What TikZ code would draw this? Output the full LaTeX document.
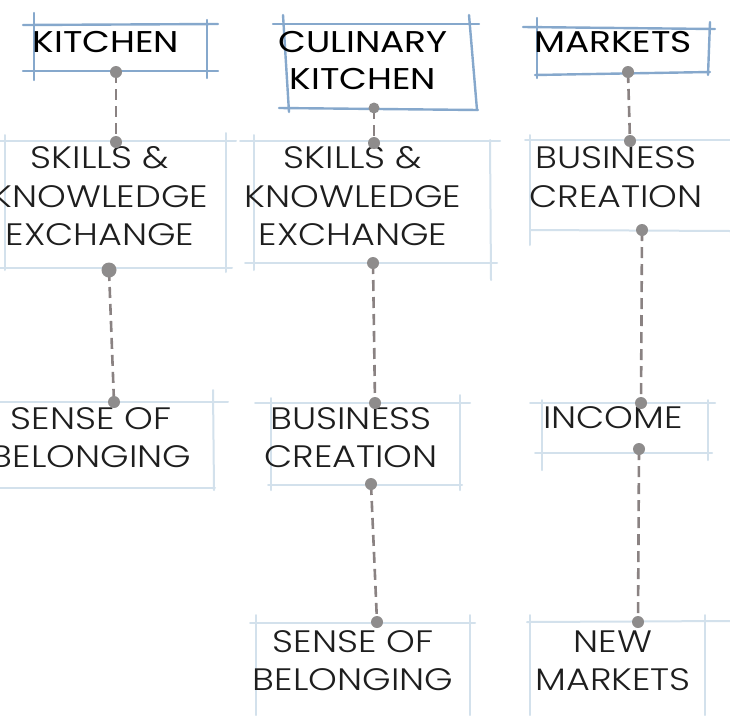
\documentclass[tikz,border=0pt]{standalone}
\usepackage{fontspec}
\setmainfont{Poppins}
\newfontfamily\bodyfont{Poppins Light}[FakeStretch=1.18]
\newfontfamily\headfont{Poppins}[FakeStretch=1.2]
\definecolor{headblue}{HTML}{86A8CC}
\definecolor{lightblue}{HTML}{D3E1EC}
\definecolor{dotgrey}{HTML}{8E8C8C}
\definecolor{dashgrey}{HTML}{8A8282}
\definecolor{txt}{HTML}{1E1E1E}
\begin{document}
\begin{tikzpicture}[x=1pt,y=-1pt,
  headline/.style={draw=headblue,line width=2.4pt,line cap=round},
  boxline/.style={draw=lightblue,line width=2pt,line cap=round},
  bodytext/.style={font=\bodyfont\fontsize{31}{38.5}\selectfont,text=txt,align=center,inner sep=0pt},
  headtext/.style={font=\headfont\fontsize{30}{37}\selectfont,text=black,align=center,inner sep=0pt},
  dot/.style={fill=dotgrey,draw=none},
  link/.style={draw=dashgrey,line width=2.6pt,dash pattern=on 11pt off 6pt}]
\useasboundingbox (0,0) rectangle (730,715);
\fill[white] (0,0) rectangle (730,715);

% ---------- boxes: column 1 ----------
\draw[headline] (23,25) -- (218,24);
\draw[headline] (23,71) -- (218,71);
\draw[headline] (34,13) -- (34,80);
\draw[headline] (207,20) -- (207,78);
\draw[boxline] (0,141) -- (236,141);
\draw[boxline] (0,268) -- (232,268);
\draw[boxline] (5,135) -- (5,270);
\draw[boxline] (226,133) -- (226,272);
\draw[boxline] (0,402) -- (228,402);
\draw[boxline] (0,488) -- (215,488);
\draw[boxline] (213,390) -- (214,490);

% ---------- boxes: column 2 ----------
\draw[headline] (273,24) -- (479,24);
\draw[headline] (279,108) -- (478,110);
\draw[headline] (283,15) -- (289,112);
\draw[headline] (469,15) -- (477,110);
\draw[boxline] (240,141) -- (500,141);
\draw[boxline] (245,263) -- (497,263);
\draw[boxline] (254,135) -- (254,270);
\draw[boxline] (490,140) -- (491,280);
\draw[boxline] (255,403) -- (470,403);
\draw[boxline] (268,485) -- (462,485);
\draw[boxline] (271,398) -- (271,490);
\draw[boxline] (460,395) -- (460,490);
\draw[boxline] (250,623) -- (475,623);
\draw[boxline] (256,615) -- (256,715);
\draw[boxline] (470,615) -- (470,715);

% ---------- boxes: column 3 ----------
\draw[headline] (523,27) -- (715,29);
\draw[headline] (535,75) -- (710,72);
\draw[headline] (537,18) -- (537,78);
\draw[headline] (710,22) -- (708,75);
\draw[boxline] (525,140) -- (730,140);
\draw[boxline] (530,230) -- (730,231);
\draw[boxline] (530,135) -- (530,245);
\draw[boxline] (530,403) -- (715,403);
\draw[boxline] (535,453) -- (712,453);
\draw[boxline] (542,400) -- (542,470);
\draw[boxline] (708,400) -- (708,460);
\draw[boxline] (527,622) -- (730,621);
\draw[boxline] (530,615) -- (530,715);
\draw[boxline] (705,615) -- (705,715);

% ---------- texts ----------
\node[headtext] (kitchen) at (106,42) {KITCHEN};
\node[bodytext] (skills1) at (100,196.5) {SKILLS \&\\KNOWLEDGE\\EXCHANGE};
\node[bodytext] (sense1) at (91,437.5) {SENSE OF\\BELONGING};

\node[headtext] (culinary) at (363,60.5) {CULINARY\\KITCHEN};
\node[bodytext] (skills2) at (353,196.5) {SKILLS \&\\KNOWLEDGE\\EXCHANGE};
\node[bodytext] (business2) at (351,437.5) {BUSINESS\\CREATION};
\node[bodytext] (sense2) at (353,660.5) {SENSE OF\\BELONGING};

\node[headtext] (markets) at (613,42) {MARKETS};
\node[bodytext] (business3) at (616,177) {BUSINESS\\CREATION};
\node[bodytext] (income) at (613,418) {INCOME};
\node[bodytext] (newmarkets) at (613,660.5) {NEW\\MARKETS};

% ---------- connector end points ----------
\coordinate (k1) at (116,72);   \coordinate (s1t) at (116,142);
\coordinate (s1b) at (109,270); \coordinate (b1t) at (114,402);
\coordinate (c2) at (374,108);  \coordinate (s2t) at (374,143);
\coordinate (s2b) at (373,263); \coordinate (bc2t) at (375,403);
\coordinate (bc2b) at (371,484);\coordinate (sb2t) at (377,622);
\coordinate (m3) at (628,72);   \coordinate (bc3t) at (630,141);
\coordinate (bc3b) at (642,230);\coordinate (in3t) at (641,403);
\coordinate (in3b) at (639,449);\coordinate (nm3t) at (638,622);

\draw[link] (k1) -- (s1t);
\draw[link] (s1b) -- (b1t);
\draw[link] (c2) -- (s2t);
\draw[link] (s2b) -- (bc2t);
\draw[link] (bc2b) -- (sb2t);
\draw[link] (m3) -- (bc3t);
\draw[link] (bc3b) -- (in3t);
\draw[link] (in3b) -- (nm3t);

\foreach \p in {k1,s1t,b1t,s2t,s2b,bc2t,bc2b,sb2t,m3,bc3t,bc3b,in3t,in3b,nm3t}
  \fill[dot] (\p) circle (6pt);
\fill[dot] (s1b) circle (7.5pt);
\fill[dot] (c2) circle (5.5pt);
\end{tikzpicture}
\end{document}
